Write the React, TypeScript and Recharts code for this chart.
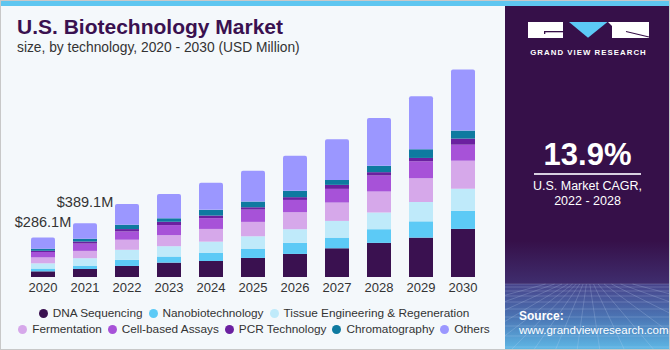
import { BarChart, Bar, XAxis, YAxis, LabelList } from "recharts";

const YEARS = ["2020", "2021", "2022", "2023", "2024", "2025", "2026", "2027", "2028", "2029", "2030"];

// USD Million
const DNA_SEQ = [41, 58, 80, 104, 116, 138, 167, 208, 247, 285, 348];
const NANO = [20, 24, 44, 44, 60, 67, 80, 77, 99, 118, 131];
const TISSUE = [38, 54, 73, 75, 80, 90, 99, 121, 121, 140, 160];
const FERMENT = [43, 53, 73, 80, 92, 104, 123, 133, 152, 172, 203];
const CELL_ASSAYS = [39, 53, 60, 73, 78, 89, 89, 99, 116, 123, 116];
const PCR = [9, 15, 17, 24, 19, 17, 20, 29, 24, 24, 44];
const CHROMA = [15, 20, 31, 25, 41, 41, 46, 36, 46, 63, 58];
const OTHERS = [81.1, 112.1, 150, 176, 196, 223, 254, 295, 346, 384, 442];

const TOTAL_LABELS = ["$286.1M", "$389.1M"];
const LABEL_LIFT = [10, 16];

const SERIES = [
  { key: "dna", label: "DNA Sequencing", color: "#3a1150", values: DNA_SEQ },
  { key: "nano", label: "Nanobiotechnology", color: "#5ccaf6", values: NANO },
  { key: "tissue", label: "Tissue Engineering & Regeneration", color: "#bfeafa", values: TISSUE },
  { key: "ferm", label: "Fermentation", color: "#d6a8ea", values: FERMENT },
  { key: "cell", label: "Cell-based Assays", color: "#a752d8", values: CELL_ASSAYS },
  { key: "pcr", label: "PCR Technology", color: "#6b20a0", values: PCR },
  { key: "chrom", label: "Chromatography", color: "#0e7aa0", values: CHROMA },
  { key: "others", label: "Others", color: "#9b97ff", values: OTHERS },
];

const data = YEARS.map((year, i) => {
  const row: Record<string, string | number> = { year };
  SERIES.forEach((s) => (row[s.key] = s.values[i]));
  return row;
});

const FONT = '"Liberation Sans", Arial, sans-serif';
const PURPLE = "#361049";

function TotalLabel(props: any) {
  const { x, y, width, index } = props;
  if (index >= TOTAL_LABELS.length) return null;
  return (
    <text
      x={x + width / 2}
      y={y - LABEL_LIFT[index]}
      textAnchor="middle"
      fontSize={14.5}
      fill="#333"
      fontFamily={FONT}
    >
      {TOTAL_LABELS[index]}
    </text>
  );
}

function LegendRow({ items }: { items: typeof SERIES }) {
  return (
    <div style={{ display: "flex", justifyContent: "center", gap: 6, height: 16, alignItems: "center" }}>
      {items.map((s) => (
        <div key={s.key} style={{ display: "flex", alignItems: "center", gap: 5 }}>
          <div style={{ width: 9, height: 9, borderRadius: "50%", background: s.color }} />
          <span style={{ fontSize: 11.8, color: "#333", whiteSpace: "nowrap" }}>{s.label}</span>
        </div>
      ))}
    </div>
  );
}

// panel coordinates: x relative to 504, y absolute
function Logo() {
  return (
    <svg width={165} height={60} style={{ position: "absolute", left: 0, top: 0 }}>
      <rect x={23} y={21} width={35} height={16} fill="#fff" />
      <rect x={39} y={30} width={19} height={1.3} fill={PURPLE} />
      <rect x={39} y={30} width={1.3} height={3} fill={PURPLE} />
      <polygon points="64,21 102.5,21 83,36.7" fill="#5ccaf6" />
      <polygon points="103,21 144,21 144,37 107,37 107,25" fill="#fff" />
      <line x1={121} y1={30.5} x2={144} y2={36} stroke={PURPLE} strokeWidth={1.2} />
      <text
        x={83.5}
        y={53.5}
        textAnchor="middle"
        fontSize={7.8}
        fontWeight="bold"
        fill="#fff"
        letterSpacing={1.05}
        fontFamily={FONT}
      >
        GRAND VIEW RESEARCH
      </text>
    </svg>
  );
}

function Floor() {
  const horizon = 283;
  const rows = [0, 3, 7, 12, 18, 25, 33, 42, 52, 63];
  const cols = [-200, -140, -90, -50, -20, 5, 28, 50, 72, 95, 120, 150, 190, 240, 300, 380];
  return (
    <svg width={166} height={350} style={{ position: "absolute", left: 0, top: 0 }}>
      <defs>
        <linearGradient id="sky" x1="0" y1="0" x2="0" y2="1">
          <stop offset="0" stopColor={PURPLE} />
          <stop offset="1" stopColor="#3f2d6e" />
        </linearGradient>
        <linearGradient id="floor" x1="0" y1="0" x2="0" y2="1">
          <stop offset="0" stopColor="#47438a" />
          <stop offset="0.5" stopColor="#4b75b4" />
          <stop offset="1" stopColor="#5fbbe8" />
        </linearGradient>
      </defs>
      <rect x={0} y={240} width={166} height={horizon - 240} fill="url(#sky)" />
      <rect x={0} y={horizon} width={166} height={350 - horizon} fill="url(#floor)" />
      <g stroke="#c8dcf5" strokeOpacity={0.28} strokeWidth={0.8}>
        {rows.map((r) => (
          <line key={r} x1={0} x2={166} y1={horizon + r} y2={horizon + r} />
        ))}
        {cols.map((c) => (
          <line key={c} x1={83 + (c - 83) * 0.15} y1={horizon} x2={c} y2={350} />
        ))}
      </g>
    </svg>
  );
}

export default function App() {
  return (
    <div
      style={{
        position: "absolute",
        left: 0,
        top: 0,
        width: 670,
        height: 350,
        boxSizing: "border-box",
        border: "1px solid #c8c8c8",
        background: "#f4f8fb",
        fontFamily: FONT,
        overflow: "hidden",
      }}
    >
      <div style={{ position: "absolute", left: 0, top: 0, width: 670, height: 5, background: "#5ec6f0" }} />

      <div style={{ position: "absolute", left: 16, top: 14, fontSize: 21, fontWeight: "bold", color: "#3a1150" }}>
        U.S. Biotechnology Market
      </div>
      <div style={{ position: "absolute", left: 16, top: 39, fontSize: 13.8, color: "#333" }}>
        size, by technology, 2020 - 2030 (USD Million)
      </div>

      <div style={{ position: "absolute", left: -1, top: -1 }}>
        <BarChart
          width={505}
          height={350}
          data={data}
          margin={{ top: 56, right: 21, bottom: 53, left: 22 }}
        >
          <XAxis
            dataKey="year"
            axisLine={false}
            tickLine={false}
            tickSize={4}
            tickMargin={2}
            height={20}
            interval={0}
            tick={{ fontSize: 13, fill: "#333", fontFamily: FONT }}
          />
          <YAxis hide domain={[0, 1600]} />
          {SERIES.map((s, i) => (
            <Bar
              key={s.key}
              dataKey={s.key}
              stackId="a"
              fill={s.color}
              barSize={24}
              radius={i === SERIES.length - 1 ? [2, 2, 0, 0] : 0}
              isAnimationActive={false}
            >
              {i === SERIES.length - 1 && <LabelList dataKey={s.key} content={TotalLabel} />}
            </Bar>
          ))}
        </BarChart>
      </div>

      <div style={{ position: "absolute", left: 0, top: 304, width: 506 }}>
        <LegendRow items={SERIES.slice(0, 3)} />
        <LegendRow items={SERIES.slice(3)} />
      </div>

      <div
        style={{
          position: "absolute",
          left: 504,
          top: 5,
          width: 165,
          height: 344,
          background: PURPLE,
          color: "#fff",
          overflow: "hidden",
        }}
      >
        <div style={{ position: "absolute", left: 0, top: -5 }}>
          <Floor />
          <Logo />
        </div>
        <div
          style={{
            position: "absolute",
            left: 0,
            width: 165,
            top: 131,
            textAlign: "center",
            fontSize: 31,
            fontWeight: "bold",
          }}
        >
          13.9%
        </div>
        <div style={{ position: "absolute", left: 29, top: 167, width: 107, height: 1.5, background: "#d8d0e0" }} />
        <div
          style={{
            position: "absolute",
            left: 0,
            width: 165,
            top: 173,
            textAlign: "center",
            fontSize: 12.5,
            lineHeight: "15px",
          }}
        >
          U.S. Market CAGR,
          <br />
          2022 - 2028
        </div>
        <div style={{ position: "absolute", left: 14, top: 303, fontSize: 12, fontWeight: "bold" }}>Source:</div>
        <div style={{ position: "absolute", left: 14, top: 318, fontSize: 11.5 }}>www.grandviewresearch.com</div>
      </div>
    </div>
  );
}
